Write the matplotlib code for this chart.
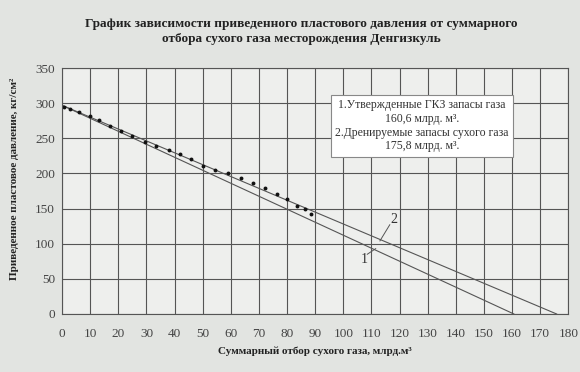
import matplotlib.pyplot as plt

# data
prod_x = [0.7, 3, 6, 10, 13, 17, 21, 25, 29.5, 33.5, 38, 42, 46, 50, 54.5,
          59, 63.5, 67.7, 72, 76.4, 80, 83.5, 86.3, 88.4]
pres_y = [295, 292, 288, 282, 276, 268, 260, 253, 245, 239, 233, 227, 220, 211,
          205, 200, 194, 186, 180, 171, 163, 154, 150, 143]

line1_x = [0, 160.6]
line1_y = [297, 0]
line2_x = [0, 175.8]
line2_y = [297, 0]

x_ticks = list(range(0, 181, 10))
y_ticks = list(range(0, 351, 50))

plt.rcParams['font.family'] = ['Liberation Serif', 'DejaVu Serif']

fig = plt.figure(figsize=(5.8, 3.72), dpi=100, facecolor='#e2e4e1')
ax = fig.add_axes([0.107, 0.156, 0.873, 0.661])
ax.set_facecolor('#eeefed')

ax.plot(line1_x, line1_y, color='#555555', lw=0.8)
ax.plot(line2_x, line2_y, color='#555555', lw=0.8)
ax.plot(prod_x, pres_y, 'o', color='#111111', ms=2.8, mec='none')

# curve labels with leader lines
ax.plot([108.5, 111.5], [85, 93], color='#555555', lw=0.7)
ax.text(107.5, 77, '1', ha='center', va='center', fontsize=10, color='#333333')
ax.plot([116.5, 113], [127, 104], color='#555555', lw=0.7)
ax.text(118, 134, '2', ha='center', va='center', fontsize=10, color='#333333')

ax.text(128, 268,
        '1.Утвержденные ГКЗ запасы газа\n160,6 млрд. м³.\n'
        '2.Дренируемые запасы сухого газа\n175,8 млрд. м³.',
        ha='center', va='center', fontsize=8.5, color='#333333', linespacing=1.2,
        bbox=dict(boxstyle='square,pad=0.35', fc='white', ec='#888888', lw=0.8))

ax.set_xlim(0, 180)
ax.set_ylim(0, 350)
ax.set_xticks(x_ticks)
ax.set_yticks(y_ticks)
ax.grid(True, color='#555555', lw=0.8)
ax.tick_params(length=0, labelsize=9.5, labelcolor='#444444')
ax.tick_params(axis='x', pad=10)
ax.tick_params(axis='y', pad=5)
for s in ax.spines.values():
    s.set_color('#555555')
    s.set_linewidth(0.8)

ax.set_xlabel('Суммарный отбор сухого газа, млрд.м³', fontsize=8,
              fontweight='bold', color='#222222', labelpad=5)
ax.set_ylabel('Приведенное пластовое давление, кг/см²', fontsize=8,
              fontweight='bold', color='#222222', labelpad=6)
ax.yaxis.set_label_coords(-0.085, 0.55)

fig.text(0.52, 0.915, 'График зависимости приведенного пластового давления от суммарного\n'
         'отбора сухого газа месторождения Денгизкуль',
         ha='center', va='center', fontsize=9.5, fontweight='bold', color='#222222',
         linespacing=1.25)

fig.savefig('out.png', dpi=100, facecolor=fig.get_facecolor())
